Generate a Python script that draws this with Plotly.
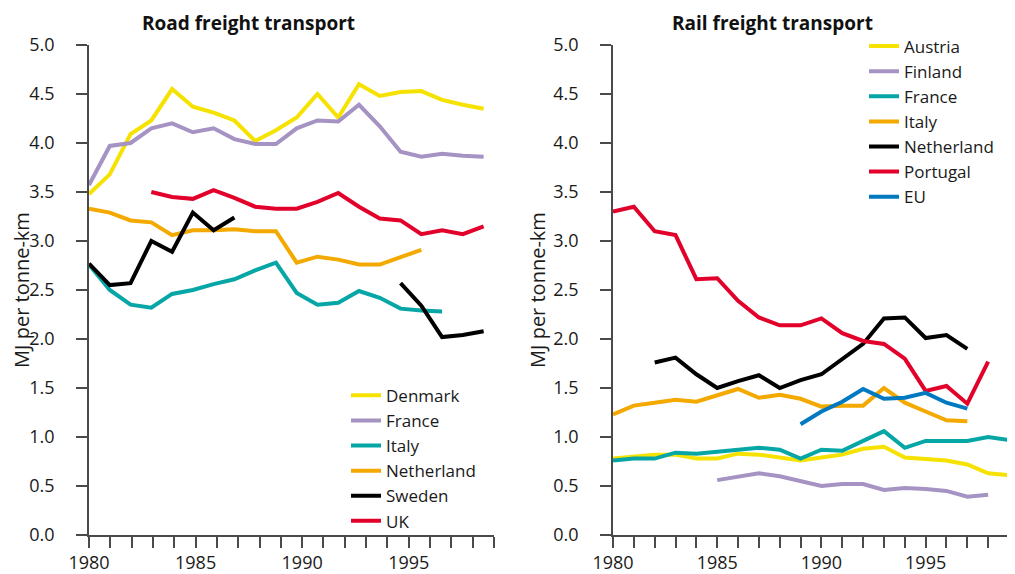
import plotly.graph_objects as go

years = list(range(1980, 2000))

# Road freight transport (MJ per tonne-km)
road_denmark = [3.48, 3.68, 4.09, 4.23, 4.55, 4.37, 4.31, 4.23, 4.02, 4.13,
                4.26, 4.50, 4.26, 4.60, 4.48, 4.52, 4.53, 4.44, 4.39, 4.35]
road_france = [3.57, 3.97, 4.00, 4.15, 4.20, 4.11, 4.15, 4.04, 3.99, 3.99,
               4.15, 4.23, 4.22, 4.39, 4.17, 3.91, 3.86, 3.89, 3.87, 3.86]
road_italy = [2.76, 2.50, 2.35, 2.32, 2.46, 2.50, 2.56, 2.61, 2.70, 2.78,
              2.47, 2.35, 2.37, 2.49, 2.42, 2.31, 2.29, 2.28, None, None]
road_netherland = [3.33, 3.29, 3.21, 3.19, 3.06, 3.11, 3.11, 3.12, 3.10, 3.10,
                   2.78, 2.84, 2.81, 2.76, 2.76, 2.83, 2.91, None, None, None]
road_sweden = [2.77, 2.55, 2.57, 3.00, 2.89, 3.29, 3.11, 3.24, None, None,
               None, None, None, None, None, 2.57, 2.34, 2.02, 2.04, 2.08]
road_uk = [None, None, None, 3.50, 3.45, 3.43, 3.52, 3.44, 3.35, 3.33,
           3.33, 3.40, 3.49, 3.35, 3.23, 3.21, 3.07, 3.11, 3.07, 3.15]

# Rail freight transport (MJ per tonne-km)
rail_austria = [0.78, 0.80, 0.82, 0.82, 0.78, 0.78, 0.83, 0.82, 0.79, 0.76,
                0.79, 0.82, 0.88, 0.90, 0.79, 0.78, 0.76, 0.72, 0.63, 0.61]
rail_finland = [None, None, None, None, None, 0.56, 0.60, 0.63, 0.60, 0.55,
                0.50, 0.52, 0.52, 0.46, 0.48, 0.47, 0.45, 0.39, 0.41, None]
rail_france = [0.76, 0.78, 0.78, 0.84, 0.83, 0.85, 0.88, 0.89, 0.87, 0.78,
               0.87, 0.86, 0.96, 1.06, 0.89, 0.96, 0.96, 0.96, 1.00, 0.97]
rail_italy = [1.23, 1.32, 1.35, 1.38, 1.36, 1.42, 1.49, 1.40, 1.43, 1.39,
              1.31, 1.32, 1.32, 1.50, 1.35, 1.26, 1.17, 1.16, None, None]
rail_netherland = [None, None, 1.76, 1.81, 1.64, 1.50, 1.57, 1.63, 1.50, 1.58,
                   1.64, 1.79, 1.95, 2.21, 2.22, 2.01, 2.04, 1.90, None, None]
rail_portugal = [3.30, 3.35, 3.10, 3.06, 2.61, 2.62, 2.39, 2.22, 2.14, 2.14,
                 2.21, 2.06, 1.98, 1.95, 1.80, 1.47, 1.52, 1.34, 1.77, None]
rail_eu = [None, None, None, None, None, None, None, None, None, 1.13,
           1.26, 1.36, 1.49, 1.39, 1.40, 1.45, 1.35, 1.29, None, None]

YELLOW = "#F6E200"
PURPLE = "#A593C3"
TEAL = "#07A6A6"
ORANGE = "#F3A900"
BLACK = "#000000"
RED = "#E2012B"
BLUE = "#0079C1"

road_series = [("Denmark", road_denmark, YELLOW), ("France", road_france, PURPLE),
               ("Italy", road_italy, TEAL), ("Netherland", road_netherland, ORANGE),
               ("Sweden", road_sweden, BLACK), ("UK", road_uk, RED)]
rail_series = [("Austria", rail_austria, YELLOW), ("Finland", rail_finland, PURPLE),
               ("France", rail_france, TEAL), ("Italy", rail_italy, ORANGE),
               ("Netherland", rail_netherland, BLACK), ("Portugal", rail_portugal, RED),
               ("EU", rail_eu, BLUE)]

FONT = "'Open Sans', Lato, sans-serif"
AX = "#4a4a4a"
TXT = "#1a1a1a"

fig = go.Figure()
for name, vals, col in road_series:
    fig.add_trace(go.Scatter(x=years, y=vals, name=name, mode="lines",
                             line=dict(color=col, width=4), xaxis="x", yaxis="y",
                             legend="legend", connectgaps=False))
for name, vals, col in rail_series:
    fig.add_trace(go.Scatter(x=years, y=vals, name=name, mode="lines",
                             line=dict(color=col, width=4), xaxis="x2", yaxis="y2",
                             legend="legend2", connectgaps=False))

# the page body adds an 8px offset; screen coordinates below are converted
OFF = 8
W, H = 1015 - OFF, 574 - OFF
ML, MR, MT, MB = 89 - OFF, 6, 44.5 - OFF, 38.5
PW, PH = W - ML - MR, H - MT - MB


def px_x(p):
    return (p - OFF - ML) / PW


def px_y(p):
    return (H - MB - (p - OFF)) / PH


left_ticks = [1980 + k * 19.5 / 19 for k in range(20)]
left_text = [str(1980 + k) if k % 5 == 0 else "" for k in range(20)]
right_ticks = years
right_text = [str(y) if (y - 1980) % 5 == 0 else "" for y in years]

common_x = dict(showline=True, linecolor=AX, linewidth=1.5, ticks="outside",
                ticklen=11, tickwidth=1.5, tickcolor=AX, showgrid=False,
                zeroline=False, automargin=False,
                tickfont=dict(size=18, color=TXT))
common_y = dict(showline=True, linecolor=AX, linewidth=1.5, ticks="outside",
                ticklen=11, tickwidth=1.5, tickcolor=AX, showgrid=False,
                zeroline=False, range=[0, 5], tickmode="array", automargin=False,
                tickvals=[i * 0.5 for i in range(11)], tickformat=".1f",
                tickfont=dict(size=18, color=TXT), ticklabelstandoff=18)

fig.update_layout(
    width=W, height=H,
    margin=dict(l=ML, r=MR, t=MT, b=MB),
    paper_bgcolor="white", plot_bgcolor="white",
    font=dict(family=FONT, size=17, color=TXT),
    xaxis=dict(domain=[0, px_x(494)], range=[1980, 1999.5], tickmode="array",
               tickvals=left_ticks, ticktext=left_text, anchor="y", **common_x),
    yaxis=dict(domain=[0, 1], anchor="x",
               title=dict(text="MJ per tonne-km", font=dict(size=20), standoff=2),
               **common_y),
    xaxis2=dict(domain=[px_x(613), 1], range=[1980, 1999], tickmode="array",
                tickvals=right_ticks, ticktext=right_text, anchor="y2", **common_x),
    yaxis2=dict(domain=[0, 1], anchor="x2",
                title=dict(text="MJ per tonne-km", font=dict(size=20), standoff=2),
                **common_y),
    legend=dict(x=px_x(346), y=px_y(378), xanchor="left", yanchor="top",
                bgcolor="rgba(0,0,0,0)", font=dict(size=17), itemwidth=30,
                tracegroupgap=0),
    legend2=dict(x=px_x(864), y=px_y(28), xanchor="left", yanchor="top",
                 bgcolor="rgba(0,0,0,0)", font=dict(size=17), itemwidth=30,
                 tracegroupgap=0),
    annotations=[
        dict(text="<b>Road freight transport</b>", x=px_x(248), y=px_y(22),
             xref="paper", yref="paper", showarrow=False, xanchor="center",
             yanchor="middle", font=dict(size=19, color="#111")),
        dict(text="<b>Rail freight transport</b>", x=px_x(772), y=px_y(22),
             xref="paper", yref="paper", showarrow=False, xanchor="center",
             yanchor="middle", font=dict(size=19, color="#111")),
    ],
)

fig.write_html("out.html")
